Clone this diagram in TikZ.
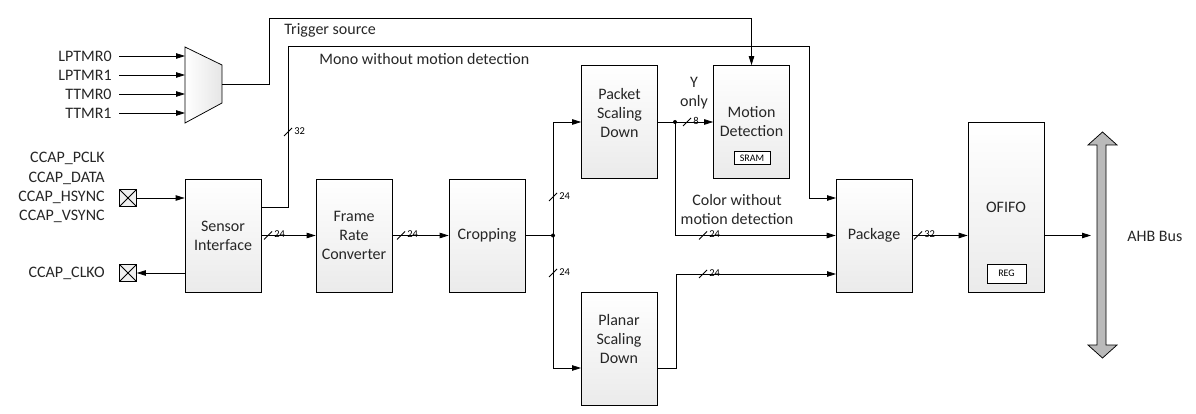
\documentclass[tikz,border=0pt]{standalone}
\usepackage{fontspec}
\setmainfont{Carlito}
\usetikzlibrary{arrows.meta,positioning}

\tikzset{
  txt/.style={font=\fontsize{16}{19}\selectfont, inner sep=0pt, align=center, text=black!85},
  blk/.style={txt, draw, top color=white, bottom color=black!8, minimum width=76pt, minimum height=113pt},
  tiny/.style={draw, fill=white, font=\fontsize{10}{12}\selectfont, inner sep=0pt},
  pin/.style={draw, fill=black!6, minimum size=17pt, inner sep=0pt,
    path picture={\draw (path picture bounding box.south west) -- (path picture bounding box.north east)
      (path picture bounding box.north west) -- (path picture bounding box.south east);}},
  arr/.style={-{Triangle[length=9pt,width=5.5pt]}},
}
% bus width mark: name, position, width
\newcommand{\bwid}[3]{\draw ([shift={(-4,4)}]#2) -- ++(8,-8);
  \node[font=\fontsize{10.5}{12}\selectfont, inner sep=0pt, anchor=west] (#1) at ([shift={(6,-1)}]#2) {#3};}

\begin{document}
\begin{tikzpicture}[x=1pt,y=-1pt, line width=0.75pt]
\useasboundingbox (0,0) rectangle (1196,414);

% timer select
\shade[draw, left color=white, right color=black!10] (185,47) -- (222,65) -- (222,103) -- (185,123) -- cycle;
\coordinate (mux-a) at (185,56);
\coordinate (mux-b) at (185,75);
\coordinate (mux-c) at (185,94);
\coordinate (mux-d) at (185,113);
\coordinate (mux-o) at (222,84);
\node[txt, anchor=east, inner xsep=7pt] (lp0) at (119,56) {LPTMR0};
\node[txt, anchor=east, inner xsep=7pt] (lp1) at (119,75) {LPTMR1};
\node[txt, anchor=east, inner xsep=7pt] (tt0) at (119,94) {TTMR0};
\node[txt, anchor=east, inner xsep=7pt] (tt1) at (119,113) {TTMR1};
\draw[arr] (lp0.east) -- (mux-a);
\draw[arr] (lp1.east) -- (mux-b);
\draw[arr] (tt0.east) -- (mux-c);
\draw[arr] (tt1.east) -- (mux-d);

% camera pins
\node[txt, anchor=east] (pclk) at (105,158) {CCAP\_PCLK};
\node[txt, anchor=east] (data) at (105,178) {CCAP\_DATA};
\node[txt, anchor=east] (hsync) at (105,197) {CCAP\_HSYNC};
\node[txt, anchor=east] (vsync) at (105,216) {CCAP\_VSYNC};
\node[txt, anchor=east] (clko) at (105,273) {CCAP\_CLKO};
\node[pin] (pinin) at (128,198) {};
\node[pin] (pinout) at (128,273) {};

% blocks
\node[blk] (sensor) at (223,235.5) {Sensor\\Interface};
\node[blk] (frc) at (354,235.5) {Frame\\Rate\\Converter};
\node[blk] (crop) at (487,235.5) {Cropping};
\node[blk] (psd) at (619.5,122) {};
\node[txt] (psd-t) at (619.5,113) {Packet\\Scaling\\Down};
\node[blk] (md) at (751.5,122) {Motion\\Detection};
\node[tiny, minimum width=36pt, minimum height=13pt] (sram) at (752,158) {SRAM};
\node[blk] (plsd) at (619,349) {};
\node[txt] (plsd-t) at (619,339) {Planar\\Scaling\\Down};
\node[blk] (pkg) at (874,235.5) {Package};
\node[blk, minimum height=170pt] (ofifo) at (1006,207) {OFIFO};
\node[tiny, minimum width=39pt, minimum height=19pt] (reg) at (1006.5,273.5) {REG};

% bus
\draw[fill=black!27] (1097,145) -- (1088,145) -- (1102.5,132) -- (1117,145) -- (1106,145)
  -- (1106,345) -- (1117,345) -- (1102.5,358) -- (1088,345) -- (1097,345) -- cycle;
\node[txt, anchor=west] (ahb) at (1127,236) {AHB Bus};

% texts
\node[txt, anchor=west] (trig) at (284,30) {Trigger source};
\node[txt, anchor=west] (mono) at (319,59) {Mono without motion detection};
\node[txt] (color) at (737,210) {Color without\\motion detection};
\node[txt] (yonly) at (694,93) {Y\\only};

% connections
\coordinate (si-o) at (261,207);
\coordinate (jn1) at (553,235.5);
\coordinate (jn2) at (675,122);
\coordinate (pkg-a) at (836,198);
\coordinate (pkg-c) at (836,274);
\coordinate (plsd-i) at (581,368);
\coordinate (plsd-o) at (657,368);
\coordinate (bus-in) at (1091,235.5);
\draw[arr] (mux-o) -| (269,18) -| (md.north);
\draw[arr] (si-o) -| (288,46) -| (809,198) -- (pkg-a);
\draw[arr] (pinin) -- (sensor.west |- pinin);
\draw[arr] (sensor.west |- pinout) -- (pinout);
\draw[arr] (sensor) -- (frc);
\draw[arr] (frc) -- (crop);
\draw (crop) -- (jn1);
\draw[arr] (jn1) |- (psd.west);
\draw[arr] (jn1) |- (plsd-i);
\draw[arr] (psd) -- (md);
\draw[arr] (jn2) |- (pkg.west);
\draw[arr] (plsd-o) -| (676,274) -- (pkg-c);
\draw[arr] (pkg.east) -- (pkg.east -| ofifo.west);
\draw[arr] (pkg.east -| ofifo.east) -- (bus-in);
\fill (jn1) circle (2pt);
\fill (jn2) circle (2pt);

% bus widths
\bwid{w1}{288,132}{32}
\bwid{w2}{268,235.5}{24}
\bwid{w3}{401,235.5}{24}
\bwid{w4}{553,197}{24}
\bwid{w5}{553,273}{24}
\bwid{w6}{687,122}{8}
\bwid{w7}{703,235.5}{24}
\bwid{w8}{703,274}{24}
\bwid{w9}{918,235.5}{32}
\end{tikzpicture}
\end{document}
